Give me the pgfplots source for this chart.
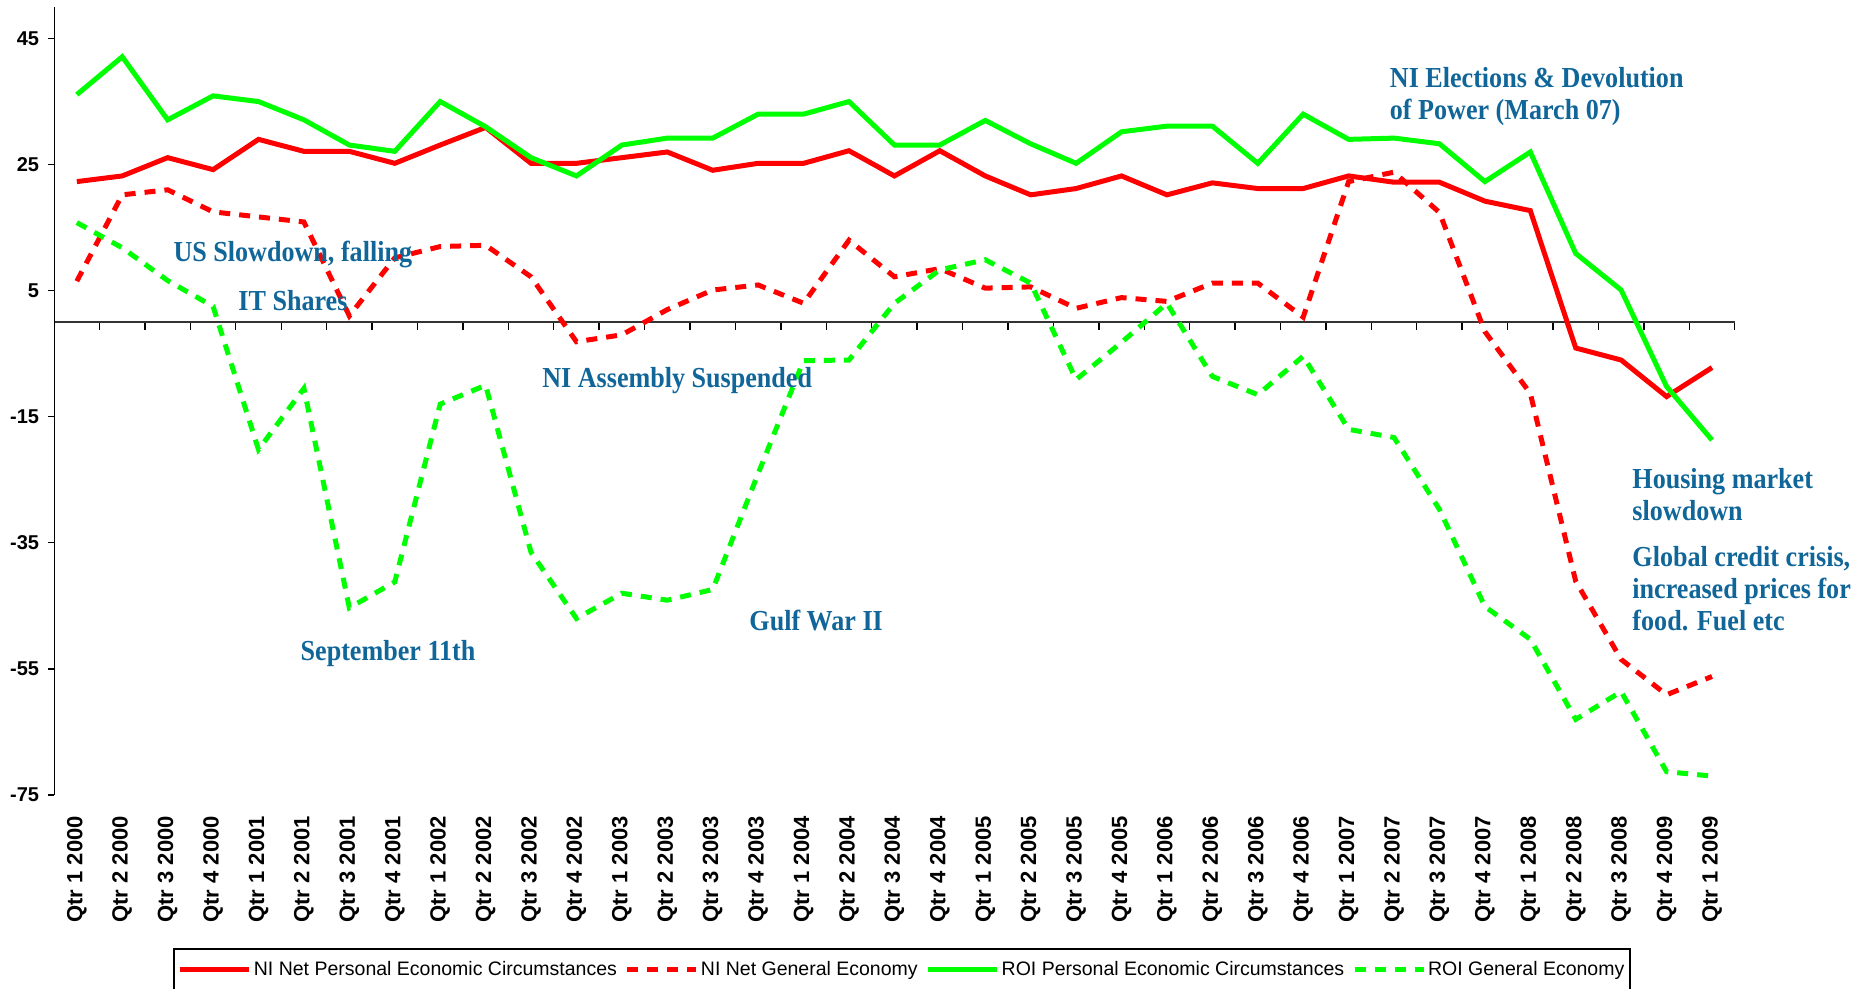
\documentclass[border=0pt]{standalone}
\usepackage{pgfplots}
\pgfplotsset{compat=1.18}
\usepackage{fontspec}
\setmainfont{Liberation Sans}
\newfontfamily\annfont[FakeStretch=0.9]{Liberation Serif}
\newfontfamily\sansb{Liberation Sans}
\definecolor{cred}{RGB}{255,0,0}
\definecolor{cgreen}{RGB}{0,255,0}
\definecolor{cblue}{RGB}{17,102,153}

\pgfplotstableread{
i nip nig roip roig
0 22.3 6.5 36.1 15.8
1 23.2 20.2 42.1 11.8
2 26.1 21.0 32.1 6.6
3 24.2 17.5 35.9 2.5
4 29.0 16.7 35.0 -20.2
5 27.1 15.9 32.1 -10.5
6 27.1 1.0 28.1 -45.3
7 25.2 10.2 27.1 -41.2
8 28.1 12.0 35.0 -13.0
9 30.9 12.2 31.0 -10.0
10 25.2 7.2 26.1 -36.5
11 25.2 -3.1 23.2 -47.0
12 26.1 -2.0 28.1 -43.0
13 27.0 2.0 29.2 -44.1
14 24.1 5.1 29.2 -42.4
15 25.2 5.9 33.0 -24.0
16 25.2 3.0 33.0 -6.1
17 27.2 13.0 35.0 -6.0
18 23.2 7.2 28.1 3.0
19 27.2 8.5 28.1 8.3
20 23.2 5.4 32.0 9.9
21 20.2 5.6 28.3 6.2
22 21.2 2.2 25.2 -9.1
23 23.2 3.9 30.2 -3.2
24 20.2 3.3 31.1 3.0
25 22.1 6.2 31.1 -8.6
26 21.2 6.2 25.2 -11.5
27 21.2 0.8 33.0 -5.4
28 23.2 22.3 29.0 -17.0
29 22.2 23.8 29.2 -18.3
30 22.2 17.4 28.3 -29.7
31 19.2 -1.5 22.3 -45.1
32 17.7 -11.3 27.0 -50.3
33 -4.1 -41.1 10.9 -63.0
34 -6.0 -53.5 5.1 -58.6
35 -11.8 -59.1 -10.2 -71.3
36 -7.2 -56.2 -18.7 -72.0
}\data

\begin{document}
\begin{tikzpicture}
\useasboundingbox (-27.05pt,-97pt) rectangle (906.95pt,397.5pt);
% zero line with ticks
\begin{axis}[
  at={(0,0)}, anchor=south west,
  width=840.3pt, height=394pt, scale only axis,
  xmin=-0.5, xmax=36.5, ymin=-75, ymax=50,
  axis x line=middle, axis y line=none,
  x axis line style={-, line width=1.2pt, draw=black!80},
  xtick={0.5,1.5,...,36.5}, xticklabels={},
  ytick=\empty,
  tick align=outside, major tick length=4pt,
  xtick style={line width=0.7pt, black},
]
\addplot[draw=none] coordinates {(0,0)};
\end{axis}
\begin{axis}[
  at={(0,0)}, anchor=south west,
  width=840.3pt, height=394pt, scale only axis,
  xmin=-0.5, xmax=36.5, ymin=-75, ymax=50,
  axis lines*=left,
  x axis line style={draw=none},
  y axis line style={line width=0.6pt, black},
  ytick={-75,-55,-35,-15,5,25,45},
  yticklabels={-75,-55,-35,-15,5,25,45},
  yticklabel style={font=\sansb\bfseries\fontsize{10}{12}\selectfont, xshift=-1pt},
  xtick={0,...,36},
  xticklabels={Qtr 1 2000,Qtr 2 2000,Qtr 3 2000,Qtr 4 2000,Qtr 1 2001,Qtr 2 2001,Qtr 3 2001,Qtr 4 2001,Qtr 1 2002,Qtr 2 2002,Qtr 3 2002,Qtr 4 2002,Qtr 1 2003,Qtr 2 2003,Qtr 3 2003,Qtr 4 2003,Qtr 1 2004,Qtr 2 2004,Qtr 3 2004,Qtr 4 2004,Qtr 1 2005,Qtr 2 2005,Qtr 3 2005,Qtr 4 2005,Qtr 1 2006,Qtr 2 2006,Qtr 3 2006,Qtr 4 2006,Qtr 1 2007,Qtr 2 2007,Qtr 3 2007,Qtr 4 2007,Qtr 1 2008,Qtr 2 2008,Qtr 3 2008,Qtr 4 2009,Qtr 1 2009},
  xtick style={draw=none},
  ytick style={line width=0.6pt, black},
  tick align=outside, major tick length=3pt,
  xticklabel style={rotate=90, anchor=east, font=\sansb\bfseries\fontsize{11}{12}\selectfont},
  xticklabel shift={4pt},
  clip=false,
  legend columns=4,
  legend style={at={(0.0707,-0.194)}, anchor=north west, draw=black, line width=1pt,
    font=\fontsize{9.75}{11}\selectfont, inner xsep=2pt, inner ysep=4pt,
    nodes={inner xsep=1pt},
    /tikz/every even column/.append style={column sep=3pt}},
  legend image code/.code={\draw[#1] (0pt,0pt) -- (34.5pt,0pt);},
]
\addplot[cred, line width=2.5pt] table[x=i, y=nip] {\data};
\addlegendentry{NI Net Personal Economic Circumstances}
\addplot[cred, line width=2.5pt, dash pattern=on 5.5pt off 4.5pt] table[x=i, y=nig] {\data};
\addlegendentry{NI Net General Economy}
\addplot[cgreen, line width=2.5pt] table[x=i, y=roip] {\data};
\addlegendentry{ROI Personal Economic Circumstances}
\addplot[cgreen, line width=2.5pt, dash pattern=on 5.5pt off 4.5pt] table[x=i, y=roig] {\data};
\addlegendentry{ROI General Economy}

\begin{scope}[every node/.style={text=cblue, font=\annfont\bfseries\fontsize{14.5}{16}\selectfont, inner sep=0pt, anchor=west, align=left}]
\node at (axis cs:2.12,10.8) {US Slowdown, falling};
\node at (axis cs:3.55,3.4) {IT Shares};
\node at (axis cs:10.24,-9.3) {NI Assembly Suspended};
\node at (axis cs:4.92,-52.5) {September 11th};
\node at (axis cs:14.8,-47.4) {Gulf War II};
\node at (axis cs:28.9,35.8) {NI Elections \& Devolution\\of Power (March 07)};
\node at (axis cs:34.24,-27.3) {Housing market\\slowdown};
\node at (axis cs:34.24,-42.3) {Global credit crisis,\\increased prices for\\food. Fuel etc};
\end{scope}
\end{axis}
\end{tikzpicture}
\end{document}
